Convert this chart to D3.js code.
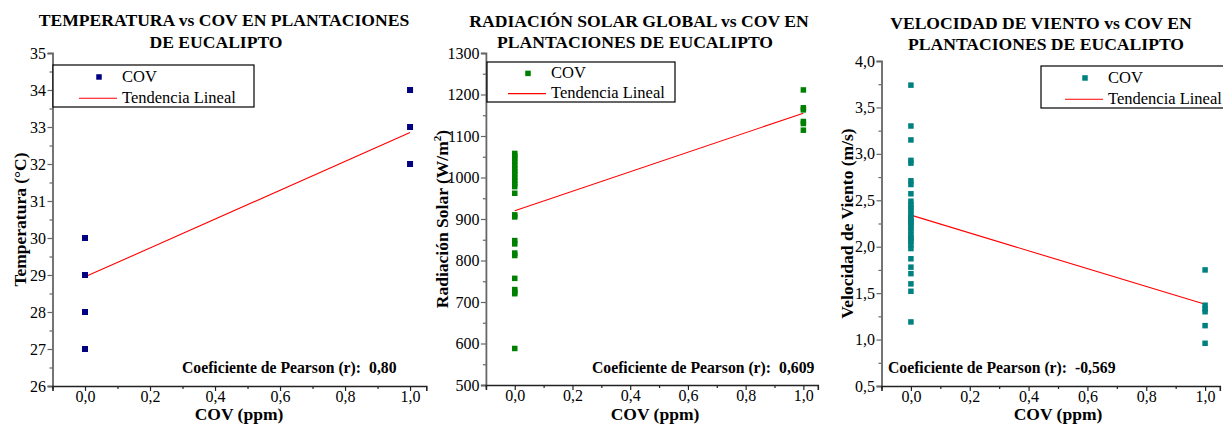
<!DOCTYPE html>
<html>
<head>
<meta charset="utf-8">
<script src="https://cdn.jsdelivr.net/npm/d3@7"></script>
<style>
  html, body { margin: 0; padding: 0; background: #fff; }
  svg { display: block; }
</style>
</head>
<body>
<svg id="chart" width="1223" height="429"></svg>
<script>
// ---------------- DATA ----------------
const xTicks = [0, 0.2, 0.4, 0.6, 0.8, 1.0];

// Panel 1: Temperatura
const tempCOV  = [0, 0, 0, 0, 1, 1, 1];
const tempVals = [27, 28, 29, 30, 32, 33, 34];
const tempTrend = [28.95, 32.85];          // fitted value at COV 0 and 1
const tempTicks = [26, 27, 28, 29, 30, 31, 32, 33, 34, 35];
const tempPearson = "0,80";

// Panel 2: Radiación solar
const radCOV  = [0,0,0,0,0,0,0,0,0,0,0,0,0,0,0,0,0,0,0,0,0,0,0,0, 1,1,1,1,1,1];
const radVals = [1058,1052,1045,1038,1030,1022,1015,1008,1000,993,985,978,962,
                 910,905,848,840,818,812,757,730,725,720,588,
                 1211,1168,1163,1135,1130,1114];
const radTrend = [920, 1155];
const radTicks = [500, 600, 700, 800, 900, 1000, 1100, 1200, 1300];
const radPearson = "0,609";

// Panel 3: Velocidad de viento
const windCOV  = [0,0,0,0,0,0,0,0,0,0,0,0,0,0,0,0,0,0,0,0,0,0,0,0,0,0,0,0,0,0,0,0, 1,1,1,1,1,1];
const windVals = [3.74,3.30,3.15,2.93,2.90,2.71,2.67,2.57,2.49,2.42,2.39,2.35,2.32,2.29,2.26,
                  2.23,2.20,2.17,2.13,2.10,2.06,2.02,1.98,1.87,1.78,1.71,1.60,1.52,1.19,
                  2.45,2.27,2.08,
                  1.75,1.37,1.33,1.30,1.15,0.96];
const windTrend = [2.34, 1.38];
const windTicks = [0.5, 1.0, 1.5, 2.0, 2.5, 3.0, 3.5, 4.0];
const windPearson = "-0,569";

// ---------------- DRAWING ----------------
const FONT = "'Liberation Serif'";
const svg = d3.select("#chart").style("font-family", FONT);
const comma = d => d3.format(".1f")(d).replace(".", ",");
const font = (sel, size, bold) => sel
  .attr("font-family", "Liberation Serif")
  .style("font-family", FONT).style("font-size", size + "px")
  .style("font-weight", bold ? "bold" : "normal").style("fill", "#000");

const panels = [
  {
    cov: tempCOV, vals: tempVals, trend: tempTrend, ticks: tempTicks, pearson: tempPearson,
    color: "#000080", ms: 6,
    title: ["TEMPERATURA vs COV EN PLANTACIONES", "DE EUCALIPTO"], titleX: [224, 216], titleY: [26, 48],
    ylabel: "Temperatura (°C)", ylabelX: 26,
    xRange: [52.5, 426.3], yDomain: [26, 35], yRange: [386, 53], yMinor: 0.5, yFmt: d => d,
    legend: {x: 53, y: 65, w: 201, h: 42, tx: 69},
    pearsonX: 182, xlabelX: 239
  },
  {
    cov: radCOV, vals: radVals, trend: radTrend, ticks: radTicks, pearson: radPearson,
    color: "#008000", ms: 5.5,
    title: ["RADIACIÓN SOLAR GLOBAL vs COV EN", "PLANTACIONES DE EUCALIPTO"], titleX: [639, 635], titleY: [27, 48],
    ylabel: null, ylabelX: 448,
    xRange: [485.9, 817.8], yDomain: [500, 1300], yRange: [385, 53], yMinor: 50, yFmt: d => d,
    legend: {x: 487, y: 62, w: 188, h: 40, tx: 64},
    pearsonX: 592, xlabelX: 655
  },
  {
    cov: windCOV, vals: windVals, trend: windTrend, ticks: windTicks, pearson: windPearson,
    color: "#008080", ms: 5.5,
    title: ["VELOCIDAD DE VIENTO vs COV EN", "PLANTACIONES DE EUCALIPTO"], titleX: [1041, 1046], titleY: [29, 50],
    ylabel: "Velocidad de Viento (m/s)", ylabelX: 853,
    xRange: [881.5, 1219.8], yDomain: [0.5, 4.0], yRange: [386, 61], yMinor: 0.25, yFmt: comma,
    legend: {x: 1041, y: 66, w: 185, h: 42, tx: 67},
    pearsonX: 888, xlabelX: 1058
  }
];

const yAxisColor = "#666";
const xAxisColor = "#222";

panels.forEach((p) => {
  const g = svg.append("g");
  const x = d3.scaleLinear().domain([-0.1, 1.05]).range(p.xRange);
  const y = d3.scaleLinear().domain(p.yDomain).range(p.yRange);

  // Title
  p.title.forEach((t, k) => {
    font(g.append("text").attr("x", p.titleX[k]).attr("y", p.titleY[k])
      .attr("text-anchor", "middle"), 17.6, true).text(t);
  });

  // minor tick values
  const yMinorVals = d3.range(p.yDomain[0], p.yDomain[1] + 1e-9, p.yMinor)
    .filter(v => !p.ticks.some(t => Math.abs(t - v) < 1e-9));
  const xMinorVals = d3.range(-0.1, 1.051, 0.1).filter(v => !xTicks.some(t => Math.abs(t - v) < 1e-9));

  // Y axis
  const ya = g.append("g").attr("transform", `translate(${p.xRange[0]},0)`)
    .call(d3.axisLeft(y).tickValues(p.ticks).tickFormat(p.yFmt).tickSize(5).tickPadding(1.5));
  ya.attr("font-family", "Liberation Serif").attr("font-size", 16);
  ya.select(".domain").attr("stroke", yAxisColor).attr("stroke-width", 1.8);
  ya.selectAll(".tick line").attr("stroke", yAxisColor).attr("stroke-width", 1.2);
  font(ya.selectAll(".tick text"), 16, false);
  const ym = g.append("g").attr("transform", `translate(${p.xRange[0]},0)`)
    .call(d3.axisLeft(y).tickValues(yMinorVals).tickFormat("").tickSize(3));
  ym.select(".domain").remove();
  ym.selectAll(".tick line").attr("stroke", yAxisColor).attr("stroke-width", 1.2);

  // X axis
  const xa = g.append("g").attr("transform", `translate(0,${p.yRange[0]})`)
    .call(d3.axisBottom(x).tickValues(xTicks).tickFormat(comma).tickSize(5).tickPadding(0));
  xa.attr("font-family", "Liberation Serif").attr("font-size", 16);
  xa.select(".domain").attr("stroke", xAxisColor).attr("stroke-width", 1.6);
  xa.selectAll(".tick line").attr("stroke", xAxisColor).attr("stroke-width", 1.2);
  font(xa.selectAll(".tick text"), 16, false);
  const xm = g.append("g").attr("transform", `translate(0,${p.yRange[0]})`)
    .call(d3.axisBottom(x).tickValues(xMinorVals).tickFormat("").tickSize(3));
  xm.select(".domain").remove();
  xm.selectAll(".tick line").attr("stroke", xAxisColor).attr("stroke-width", 1.2);

  // Axis labels
  font(g.append("text").attr("x", p.xlabelX).attr("y", 419.5).attr("text-anchor", "middle"), 17.5, true)
    .text("COV (ppm)");

  const yc = (p.yRange[0] + p.yRange[1]) / 2;
  const yl = font(g.append("text")
    .attr("transform", `translate(${p.ylabelX},${yc}) rotate(-90)`)
    .attr("text-anchor", "middle"), 17.5, true);
  if (p.ylabel) {
    yl.text(p.ylabel);
  } else {
    yl.append("tspan").text("Radiación Solar (W/m");
    yl.append("tspan").attr("dy", -7).style("font-size", "11px").text("2");
    yl.append("tspan").attr("dy", 7).text(")");
  }

  // Trend line
  g.append("line")
    .attr("x1", x(0)).attr("y1", y(p.trend[0]))
    .attr("x2", x(1)).attr("y2", y(p.trend[1]))
    .attr("stroke", "#ff0000").attr("stroke-width", 1.1);

  // Points
  const ms = p.ms;
  g.selectAll("rect.pt").data(p.vals).enter().append("rect")
    .attr("class", "pt")
    .attr("x", (d, k) => x(p.cov[k]) - ms / 2)
    .attr("y", d => y(d) - ms / 2)
    .attr("width", ms).attr("height", ms)
    .attr("fill", p.color);

  // Pearson text (two parts to keep the wide gap)
  const pt = font(g.append("text").attr("x", p.pearsonX).attr("y", 373), 15.7, true);
  pt.append("tspan").text("Coeficiente de Pearson (r):");
  pt.append("tspan").attr("dx", 8).text(p.pearson);

  // Legend
  const L = p.legend;
  const lg = g.append("g");
  lg.append("rect").attr("x", L.x).attr("y", L.y).attr("width", L.w).attr("height", L.h)
    .attr("fill", "#fff").attr("stroke", "#000").attr("stroke-width", 1.2);
  const r1 = L.y + L.h * 0.285, r2 = L.y + L.h * 0.79;
  const textX = L.x + L.tx;
  lg.append("rect").attr("x", textX - 23 - 2.75).attr("y", r1 - 2.75)
    .attr("width", 5.5).attr("height", 5.5).attr("fill", p.color);
  lg.append("line").attr("x1", textX - 43).attr("x2", textX - 5)
    .attr("y1", r2).attr("y2", r2).attr("stroke", "#ff0000").attr("stroke-width", 1.1);
  font(lg.append("text").attr("x", textX).attr("y", r1 + 5), 16.5, false).text("COV");
  font(lg.append("text").attr("x", textX).attr("y", r2 + 4.5), 16.5, false).text("Tendencia Lineal");
});
</script>
</body>
</html>
